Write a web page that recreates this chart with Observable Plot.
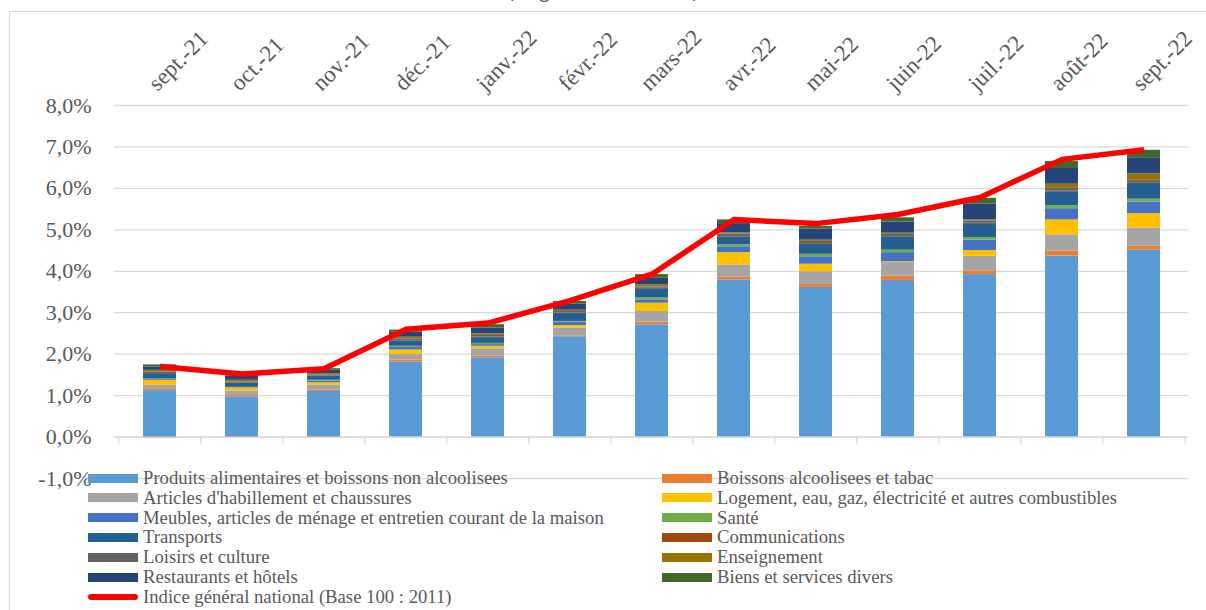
<!DOCTYPE html>
<html>
<head>
<meta charset="utf-8">
<script src="https://cdn.jsdelivr.net/npm/d3@7"></script>
<script src="https://cdn.jsdelivr.net/npm/@observablehq/plot@0.6"></script>
<style>
  html, body { margin: 0; padding: 0; background: #fff; }
  #wrap { position: relative; width: 1206px; height: 610px; overflow: hidden; font-family: "Liberation Serif", serif; }
  #frame { position: absolute; left: 9px; top: 11px; width: 1400px; height: 800px; border-left: 1.5px solid #d9d9d9; border-top: 1.5px solid #d9d9d9; }
  #title { position: absolute; left: 0; width: 1206px; top: -18.5px; text-align: center; font-family: "Open Sans", sans-serif; font-size: 18px; line-height: 18px; color: #44546a; white-space: nowrap; }
  #chart { position: absolute; left: 0; top: 0; }
  #legend { position: absolute; left: 0; top: 0; width: 1206px; height: 610px; pointer-events: none; }
  .item { position: absolute; height: 20px; display: flex; align-items: center; font-size: 18.7px; color: #595959; white-space: nowrap; }
  .sw { width: 50px; height: 9px; margin-right: 5px; }
  .ln { width: 50px; height: 5.5px; border-radius: 3px; margin-right: 5px; }
</style>
</head>
<body>
<div id="wrap">
  <div id="frame"></div>
  <div id="title">(en glissement annuel)</div>
  <div id="chart"></div>
  <div id="legend"></div>
</div>
<script>
const months = ["sept.-21","oct.-21","nov.-21","déc.-21","janv.-22","févr.-22","mars-22","avr.-22","mai-22","juin-22","juil.-22","août-22","sept.-22"];

const categories = [
  "Produits alimentaires et boissons non alcoolisees",
  "Boissons alcoolisees et tabac",
  "Articles d'habillement et chaussures",
  "Logement, eau, gaz, électricité et autres combustibles",
  "Meubles, articles de ménage et entretien courant de la maison",
  "Santé",
  "Transports",
  "Communications",
  "Loisirs et culture",
  "Enseignement",
  "Restaurants et hôtels",
  "Biens et services divers"
];
const colors = ["#5B9BD5","#ED7D31","#A5A5A5","#FFC000","#4472C4","#70AD47","#255E91","#9E480E","#636363","#997300","#264478","#43682B"];

const alimentaires = [1.12, 0.97, 1.10, 1.81, 1.91, 2.42, 2.71, 3.79, 3.61, 3.78, 3.92, 4.37, 4.51];
const boissons     = [0.03, 0.03, 0.03, 0.05, 0.04, 0.02, 0.06, 0.07, 0.07, 0.10, 0.09, 0.12, 0.10];
const habillement  = [0.10, 0.11, 0.12, 0.13, 0.18, 0.19, 0.26, 0.29, 0.31, 0.33, 0.35, 0.39, 0.43];
const logement     = [0.12, 0.06, 0.06, 0.11, 0.06, 0.06, 0.20, 0.30, 0.18, 0.02, 0.14, 0.36, 0.35];
const meubles      = [0.02, 0.01, 0.04, 0.06, 0.04, 0.08, 0.08, 0.14, 0.18, 0.22, 0.25, 0.27, 0.28];
const sante        = [0.01, 0.02, 0.02, 0.03, 0.03, 0.02, 0.05, 0.05, 0.06, 0.06, 0.06, 0.07, 0.07];
const transports   = [0.13, 0.10, 0.10, 0.13, 0.14, 0.20, 0.22, 0.19, 0.24, 0.32, 0.34, 0.34, 0.39];
const communications = [-0.02, -0.01, -0.01, 0.01, 0.01, 0.01, 0.01, 0.01, 0.02, 0.01, 0.01, 0.02, 0.04];
const loisirs      = [0.04, 0.03, 0.03, 0.04, 0.04, 0.03, 0.03, 0.06, 0.05, 0.05, 0.05, 0.06, 0.04];
const enseignement = [0.04, 0.04, 0.03, 0.04, 0.04, 0.03, 0.05, 0.03, 0.03, 0.03, 0.03, 0.10, 0.14];
const restaurants  = [0.08, 0.10, 0.08, 0.12, 0.14, 0.15, 0.16, 0.22, 0.27, 0.27, 0.38, 0.38, 0.39];
const divers       = [0.05, 0.02, 0.04, 0.05, 0.08, 0.06, 0.09, 0.09, 0.06, 0.10, 0.14, 0.17, 0.18];
const indice       = [1.70, 1.52, 1.65, 2.60, 2.75, 3.29, 3.93, 5.25, 5.15, 5.37, 5.78, 6.70, 6.93];

const indiceLabel = "Indice général national (Base 100 : 2011)";
const yTicks = [-1, 0, 1, 2, 3, 4, 5, 6, 7, 8];

const series = [alimentaires, boissons, habillement, logement, meubles, sante, transports, communications, loisirs, enseignement, restaurants, divers];
const rows = [];
categories.forEach((c, ci) => months.forEach((m, mi) => rows.push({month: m, cat: c, value: series[ci][mi]})));
const lineRows = months.map((m, i) => ({month: m, value: indice[i]}));

const fmt = d => d.toFixed(1).replace(".", ",") + "%";

const plot = Plot.plot({
  width: 1206,
  height: 610,
  marginLeft: 114,
  marginRight: 18,
  marginTop: 105,
  marginBottom: 132,
  style: {fontFamily: "'Liberation Serif', serif", fontSize: "20px", color: "#595959", background: "transparent"},
  x: {domain: months, paddingInner: 0.6, paddingOuter: 0.3, axis: null},
  y: {domain: [-1, 8], axis: null},
  color: {domain: categories, range: colors},
  marks: [
    Plot.gridY(yTicks, {stroke: "#d9d9d9", strokeOpacity: 1, strokeWidth: 1.3}),
    Plot.ruleX(months, {x: d => d, y1: 0, y2: -0.17, dx: -41.3, stroke: "#d9d9d9", strokeWidth: 1.3}),
    Plot.ruleX(months.slice(-1), {x: d => d, y1: 0, y2: -0.17, dx: 41.3, stroke: "#d9d9d9", strokeWidth: 1.3}),
    Plot.barY(rows, Plot.stackY({x: "month", y: "value", fill: "cat", order: null})),
    Plot.ruleY([0], {stroke: "#d9d9d9", strokeWidth: 1.3}),
    Plot.line(lineRows, {x: "month", y: "value", stroke: "#FF0000", strokeWidth: 5.5, strokeLinecap: "butt"}),
    Plot.axisY(yTicks, {label: null, tickSize: 0, tickPadding: 23, tickFormat: fmt, fill: "#595959", fontSize: 22}),
    Plot.text(months, {x: d => d, frameAnchor: "top", dx: -14, dy: -25, rotate: -45, textAnchor: "start", fill: "#595959", fontSize: 23})
  ]
});
document.getElementById("chart").appendChild(plot);

// legend (two columns, row-major like the original)
const legend = document.getElementById("legend");
const rowY0 = 478, rowStep = 19.8;
categories.forEach((c, i) => {
  const col = i % 2, row = Math.floor(i / 2);
  const el = document.createElement("div");
  el.className = "item";
  el.style.left = (col === 0 ? 88 : 662) + "px";
  el.style.top = (rowY0 + row * rowStep - 10) + "px";
  el.innerHTML = `<span class="sw" style="background:${colors[i]}"></span><span></span>`;
  el.lastChild.textContent = c;
  legend.appendChild(el);
});
const li = document.createElement("div");
li.className = "item";
li.style.left = "88px";
li.style.top = (rowY0 + 6 * rowStep - 10) + "px";
li.innerHTML = `<span class="ln" style="background:#FF0000"></span><span></span>`;
li.lastChild.textContent = indiceLabel;
legend.appendChild(li);
</script>
</body>
</html>
